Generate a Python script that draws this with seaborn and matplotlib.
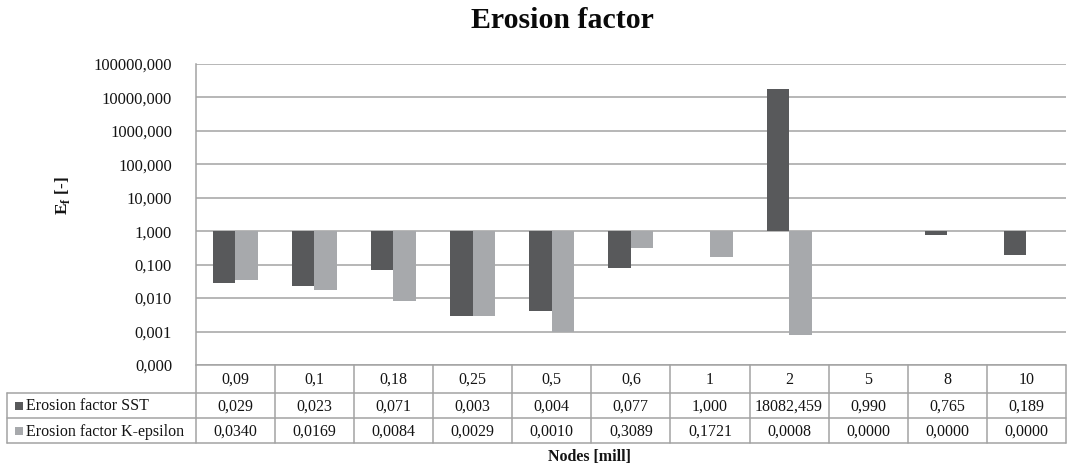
import numpy as np
import pandas as pd
import matplotlib
matplotlib.use("Agg")
import matplotlib.pyplot as plt
from matplotlib.patches import Rectangle
from matplotlib.ticker import FixedLocator, FuncFormatter, NullLocator
import seaborn as sns

# ---- data ----
nodes = ["0,09", "0,1", "0,18", "0,25", "0,5", "0,6", "1", "2", "5", "8", "10"]
series_names = ["Erosion factor SST", "Erosion factor K-epsilon"]
sst = [0.029, 0.023, 0.071, 0.003, 0.004, 0.077, 1.000, 18082.459, 0.990, 0.765, 0.189]
keps = [0.0340, 0.0169, 0.0084, 0.0029, 0.0010, 0.3089, 0.1721, 0.0008, 0.0, 0.0, 0.0]
sst_text = ["0,029", "0,023", "0,071", "0,003", "0,004", "0,077", "1,000",
            "18082,459", "0,990", "0,765", "0,189"]
keps_text = ["0,0340", "0,0169", "0,0084", "0,0029", "0,0010", "0,3089", "0,1721",
             "0,0008", "0,0000", "0,0000", "0,0000"]
y_ticks = [1e-4, 1e-3, 1e-2, 1e-1, 1, 10, 100, 1000, 10000, 100000]

colors = ["#58595b", "#a7a9ac"]
grid_col = "#a3a3a3"
txt_col = "#141414"

sns.set_style("white")
plt.rcParams["font.family"] = ["Liberation Serif", "DejaVu Serif"]
plt.rcParams["mathtext.fontset"] = "custom"
plt.rcParams["mathtext.rm"] = "Liberation Serif"
plt.rcParams["mathtext.bf"] = "Liberation Serif:bold"

W, H = 1070, 466
fig = plt.figure(figsize=(W / 100, H / 100), dpi=100)

# plot area in pixels (x from left, y from top)
x0, x1 = 195.7, 1066.0
yt, yb = 64.0, 365.0
ax = fig.add_axes([x0 / W, (H - yb) / H, (x1 - x0) / W, (yb - yt) / H])
ax.set_facecolor("none")

# bars hang from the value 1 (category axis crosses there); zero values cannot show on log
rows = []
for name, vals in zip(series_names, [sst, keps]):
    for n, v in zip(nodes, vals):
        rows.append({"node": n, "series": name,
                     "height": (v - 1.0) if v > 0 else np.nan})
df = pd.DataFrame(rows)

sns.barplot(data=df, x="node", y="height", hue="series", order=nodes,
            hue_order=series_names, palette=colors, saturation=1,
            width=0.57, errorbar=None, legend=False, bottom=1.0,
            linewidth=0, ax=ax, zorder=3)

ax.set_yscale("log")
ax.set_ylim(1e-4, 1e5)
ax.set_xlim(-0.5, len(nodes) - 0.5)
ax.yaxis.set_major_locator(FixedLocator(y_ticks))
ax.yaxis.set_minor_locator(NullLocator())
ax.yaxis.set_major_formatter(FuncFormatter(lambda v, p: f"{v:.3f}".replace(".", ",")))
ax.set_xticks([])
ax.set_xlabel("")
ax.set_ylabel("")
ax.grid(axis="y", color=grid_col, linewidth=1.1, zorder=0)
ax.set_axisbelow(True)
for s in ["top", "right", "bottom"]:
    ax.spines[s].set_visible(False)
ax.spines["left"].set_color(grid_col)
ax.spines["left"].set_linewidth(1.1)
ax.tick_params(axis="y", direction="out", length=6, width=1.1, color=grid_col,
               labelsize=12, labelcolor=txt_col, pad=11)

# overlay in pixel coordinates for the title, axis titles and the data table
ov = fig.add_axes([0, 0, 1, 1], zorder=-1)
ov.set_xlim(0, W)
ov.set_ylim(H, 0)
ov.axis("off")

ov.text(562, 21, "Erosion factor", ha="center", va="center", fontsize=21.5,
        fontweight="bold", color="#0a0a0a")
ov.text(63, 196, r"E$_\mathbf{f}$ [-]", ha="center", va="center", rotation=90,
        fontsize=12.5, fontweight="bold", color=txt_col)
ov.text(590, 457, "Nodes [mill]", ha="center", va="center", fontsize=11.5,
        fontweight="bold", color=txt_col)

# table geometry
tl = 7.3
r_head, r1, r2, r3 = 365.0, 393.0, 418.0, 443.0
ncol = len(nodes)
cw = (x1 - x0) / ncol
lw = 1.1
fs = 11.5

ov.plot([x0, x1], [r_head, r_head], color=grid_col, lw=lw)
for yy in (r1, r2, r3):
    ov.plot([tl, x1], [yy, yy], color=grid_col, lw=lw)
ov.plot([tl, tl], [r1, r3], color=grid_col, lw=lw)
for i in range(ncol + 1):
    xx = x0 + i * cw
    ov.plot([xx, xx], [r_head, r3], color=grid_col, lw=lw)

for i, n in enumerate(nodes):
    cx = x0 + (i + 0.5) * cw
    ov.text(cx, (r_head + r1) / 2 + 1, n, ha="center", va="center", fontsize=fs,
            color=txt_col)
    ov.text(cx, (r1 + r2) / 2 + 1, sst_text[i], ha="center", va="center",
            fontsize=fs, color=txt_col)
    ov.text(cx, (r2 + r3) / 2 + 1, keps_text[i], ha="center", va="center",
            fontsize=fs, color=txt_col)

for (ya, yb2), name, col in zip([(r1, r2), (r2, r3)], series_names, colors):
    cy = (ya + yb2) / 2
    ov.add_patch(Rectangle((15, cy - 4), 8, 8, facecolor=col, edgecolor="none"))
    ov.text(26, cy + 1, name, ha="left", va="center", fontsize=fs, color=txt_col)

fig.savefig("out.png", dpi=100)
